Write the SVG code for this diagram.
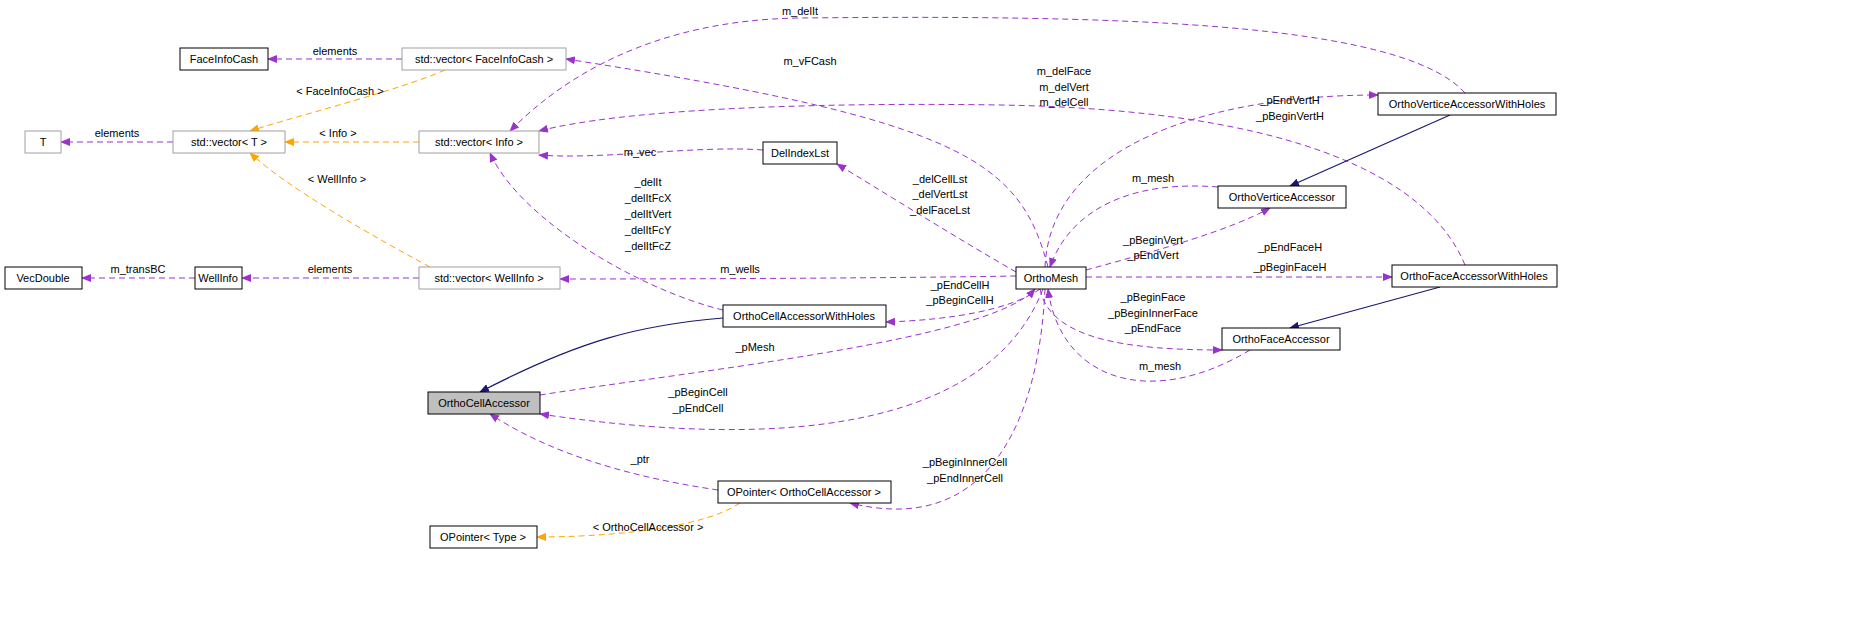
<svg xmlns="http://www.w3.org/2000/svg" width="1853" height="625" viewBox="0 0 1853 625">
<style>
text{font-family:"Liberation Sans",Arial,sans-serif;font-size:11px;fill:#000}
.n rect{fill:#fff;stroke:#000;stroke-width:1}
.g rect{fill:#fff;stroke:#a0a0a0;stroke-width:1}
.c text{text-anchor:middle}
.p{fill:none;stroke:#9a32cd;stroke-dasharray:6,4}
.o{fill:none;stroke:#ffa500;stroke-dasharray:6,4}
.b{fill:none;stroke:#191970;stroke-width:1.2}
</style>
<defs>
<marker id="mp" markerWidth="10" markerHeight="8" refX="9" refY="4" orient="auto" markerUnits="userSpaceOnUse"><path d="M0,0L10,4L0,8z" fill="#9a32cd"/></marker>
<marker id="mo" markerWidth="10" markerHeight="8" refX="9" refY="4" orient="auto" markerUnits="userSpaceOnUse"><path d="M0,0L10,4L0,8z" fill="#ffa500"/></marker>
<marker id="mb" markerWidth="10" markerHeight="8" refX="9" refY="4" orient="auto" markerUnits="userSpaceOnUse"><path d="M0,0L10,4L0,8z" fill="#191970"/></marker>
</defs>
<rect width="1853" height="625" fill="#fff"/>
<g id="connectors" class="c">
<path class="p" marker-end="url(#mp)" d="M402,59H268"/><text x="335" y="55">elements</text>
<path class="o" marker-end="url(#mo)" d="M445,70C400,90 300,115 250,131"/><text x="340" y="95">&lt; FaceInfoCash &gt;</text>
<path class="p" marker-end="url(#mp)" d="M173,142H61"/><text x="117" y="137">elements</text>
<path class="o" marker-end="url(#mo)" d="M419,142H285"/><text x="338" y="137">&lt; Info &gt;</text>
<path class="o" marker-end="url(#mo)" d="M430,267C380,240 290,190 250,153"/><text x="337" y="183">&lt; WellInfo &gt;</text>
<path class="p" marker-end="url(#mp)" d="M763,150C700,145 600,160 539,155"/><text x="640" y="156">m_vec</text>
<path class="p" marker-end="url(#mp)" d="M723,310C640,290 520,220 490,153"/>
<text x="648" y="186">_delIt</text><text x="648" y="202">_delItFcX</text><text x="648" y="218">_delItVert</text><text x="648" y="234">_delItFcY</text><text x="648" y="250">_delItFcZ</text>
<path class="p" marker-end="url(#mp)" d="M195,278H82"/><text x="138" y="273">m_transBC</text>
<path class="p" marker-end="url(#mp)" d="M419,278H242"/><text x="330" y="273">elements</text>
<path class="p" marker-end="url(#mp)" d="M1016,276C900,278 700,279 560,279"/><text x="740" y="273">m_wells</text>
<path class="p" marker-end="url(#mp)" d="M1048,267C1020,160 960,120 566,59"/><text x="810" y="65">m_vFCash</text>
<path class="p" marker-end="url(#mp)" d="M1465,93C1400,20 1100,15 800,18C650,20 560,80 510,131"/><text x="800" y="15">m_delIt</text>
<path class="p" marker-end="url(#mp)" d="M1465,265C1430,180 1300,110 1000,105C800,102 620,110 539,131"/>
<text x="1064" y="75">m_delFace</text><text x="1064" y="91">m_delVert</text><text x="1064" y="106">m_delCell</text>
<path class="p" marker-end="url(#mp)" d="M1016,272C960,240 880,190 837,164"/>
<text x="940" y="183">_delCellLst</text><text x="940" y="198">_delVertLst</text><text x="940" y="214">_delFaceLst</text>
<path class="p" marker-end="url(#mp)" d="M1045,267C1050,150 1200,95 1378,95"/><text x="1290" y="104">_pEndVertH</text><text x="1290" y="120">_pBeginVertH</text>
<path class="p" marker-end="url(#mp)" d="M1218,187C1130,180 1070,210 1050,267"/><text x="1153" y="182">m_mesh</text>
<path class="p" marker-end="url(#mp)" d="M1086,270C1160,250 1230,230 1270,208"/><text x="1153" y="244">_pBeginVert</text><text x="1153" y="259">_pEndVert</text>
<path class="p" marker-end="url(#mp)" d="M1086,277H1392"/><text x="1290" y="251">_pEndFaceH</text><text x="1290" y="271">_pBeginFaceH</text>
<path class="p" marker-end="url(#mp)" d="M1250,350C1150,410 1060,380 1048,289"/><text x="1160" y="370">m_mesh</text>
<path class="p" marker-end="url(#mp)" d="M1040,289C1050,340 1130,350 1222,350"/><text x="1153" y="301">_pBeginFace</text><text x="1153" y="317">_pBeginInnerFace</text><text x="1153" y="332">_pEndFace</text>
<path class="p" marker-end="url(#mp)" d="M1040,289C1010,310 950,320 886,322"/><text x="960" y="289">_pEndCellH</text><text x="960" y="304">_pBeginCellH</text>
<path class="p" marker-end="url(#mp)" d="M540,395C700,370 990,340 1035,289"/><text x="755" y="351">_pMesh</text>
<path class="p" marker-end="url(#mp)" d="M1043,289C1000,400 850,460 540,414"/><text x="698" y="396">_pBeginCell</text><text x="698" y="412">_pEndCell</text>
<path class="p" marker-end="url(#mp)" d="M1045,289C1040,400 1000,540 850,503"/><text x="965" y="466">_pBeginInnerCell</text><text x="965" y="482">_pEndInnerCell</text>
<path class="p" marker-end="url(#mp)" d="M718,490C650,480 560,460 490,414"/><text x="640" y="463">_ptr</text>
<path class="o" marker-end="url(#mo)" d="M740,503C700,530 600,537 537,537"/><text x="648" y="531">&lt; OrthoCellAccessor &gt;</text>
<path class="b" marker-end="url(#mb)" d="M723,318C640,325 580,340 480,392"/>
<path class="b" marker-end="url(#mb)" d="M1450,115L1290,186"/>
<path class="b" marker-end="url(#mb)" d="M1440,287L1290,328"/>
</g>
<g id="FaceInfoCash" class="n c"><rect x="180" y="48" width="88" height="22"/><text x="224" y="63">FaceInfoCash</text></g>
<g id="vecFaceInfoCash" class="g c"><rect x="402" y="48" width="164" height="22"/><text x="484" y="63">std::vector&lt; FaceInfoCash &gt;</text></g>
<g id="T" class="g c"><rect x="25" y="131" width="36" height="22"/><text x="43" y="146">T</text></g>
<g id="vecT" class="g c"><rect x="173" y="131" width="112" height="22"/><text x="229" y="146">std::vector&lt; T &gt;</text></g>
<g id="vecInfo" class="g c"><rect x="419" y="131" width="120" height="22"/><text x="479" y="146">std::vector&lt; Info &gt;</text></g>
<g id="DelIndexLst" class="n c"><rect x="763" y="142" width="74" height="22"/><text x="800" y="157">DelIndexLst</text></g>
<g id="VecDouble" class="n c"><rect x="5" y="267" width="77" height="22"/><text x="43" y="282">VecDouble</text></g>
<g id="WellInfo" class="n c"><rect x="195" y="267" width="47" height="22"/><text x="218" y="282">WellInfo</text></g>
<g id="vecWellInfo" class="g c"><rect x="419" y="267" width="141" height="22"/><text x="489" y="282">std::vector&lt; WellInfo &gt;</text></g>
<g id="OrthoMesh" class="n c"><rect x="1016" y="267" width="70" height="22"/><text x="1051" y="282">OrthoMesh</text></g>
<g id="OrthoCellAccessorWithHoles" class="n c"><rect x="723" y="305" width="163" height="22"/><text x="804" y="320">OrthoCellAccessorWithHoles</text></g>
<g id="OrthoCellAccessor" class="n c"><rect x="428" y="392" width="112" height="22" fill="#bfbfbf" style="fill:#bfbfbf"/><text x="484" y="407">OrthoCellAccessor</text></g>
<g id="OPointerOCA" class="n c"><rect x="718" y="481" width="173" height="22"/><text x="804" y="496">OPointer&lt; OrthoCellAccessor &gt;</text></g>
<g id="OPointerType" class="n c"><rect x="430" y="526" width="107" height="22"/><text x="483" y="541">OPointer&lt; Type &gt;</text></g>
<g id="OrthoVerticeAccessorWithHoles" class="n c"><rect x="1378" y="93" width="178" height="22"/><text x="1467" y="108">OrthoVerticeAccessorWithHoles</text></g>
<g id="OrthoVerticeAccessor" class="n c"><rect x="1218" y="186" width="128" height="22"/><text x="1282" y="201">OrthoVerticeAccessor</text></g>
<g id="OrthoFaceAccessorWithHoles" class="n c"><rect x="1392" y="265" width="165" height="22"/><text x="1474" y="280">OrthoFaceAccessorWithHoles</text></g>
<g id="OrthoFaceAccessor" class="n c"><rect x="1222" y="328" width="118" height="22"/><text x="1281" y="343">OrthoFaceAccessor</text></g>
</svg>
